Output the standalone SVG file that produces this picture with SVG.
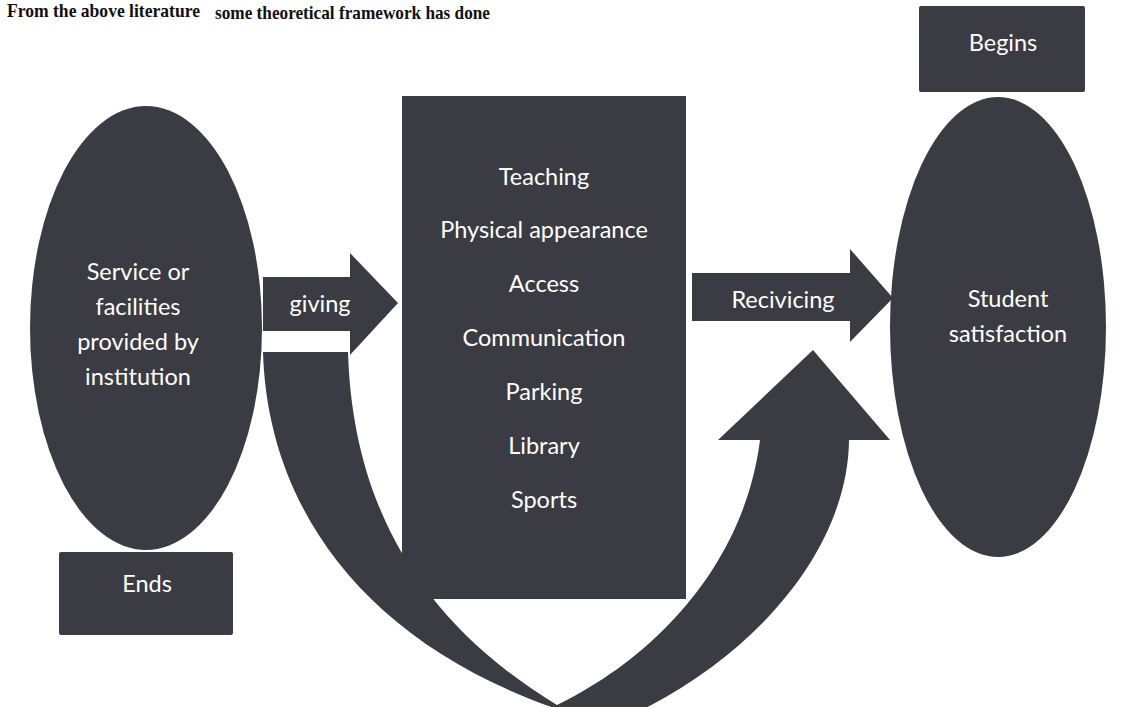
<svg xmlns="http://www.w3.org/2000/svg" width="1124" height="707" viewBox="0 0 1124 707">
<style>
.shape{fill:#3b3b43}
.lbl{font-family:Lato,"Open Sans","Liberation Sans",sans-serif;font-size:23.5px;fill:#ffffff;text-anchor:middle}
.title{font-family:"Liberation Serif","Times New Roman",serif;font-weight:bold;font-size:19px;fill:#111111}
</style>
<rect width="1124" height="707" fill="#ffffff"/>
<text class="title" x="7" y="17" textLength="193" lengthAdjust="spacingAndGlyphs">From the above literature</text>
<text class="title" x="215" y="19" textLength="275" lengthAdjust="spacingAndGlyphs">some theoretical framework has done</text>
<g id="connectors">
<path id="curved-arrow" class="shape" d="M263,352 L348,352 C352,480 400,610 557,705 C660,655 745,560 760,440 L718,440 L813,350 L890,440 L849,440 C848,545 760,660 610,725 C380,665 268,520 263,352 Z"/>
<g id="giving-arrow">
<path class="shape" d="M263,277 L350,277 L350,253 L398,303 L350,355 L350,331 L263,331 Z"/>
<text class="lbl" x="320" y="312">giving</text>
</g>
<g id="receiving-arrow">
<path class="shape" d="M692,273 L850,273 L850,249 L893,298 L850,342 L850,321 L692,321 Z"/>
<text class="lbl" x="783" y="308">Recivicing</text>
</g>
</g>
<g id="node-service">
<ellipse class="shape" cx="146" cy="328" rx="116" ry="222"/>
<text class="lbl" x="138" y="280">Service or</text>
<text class="lbl" x="138" y="315">facilities</text>
<text class="lbl" x="138" y="350">provided by</text>
<text class="lbl" x="138" y="385">institution</text>
</g>
<g id="node-factors">
<rect class="shape" x="402" y="96" width="284" height="503"/>
<text class="lbl" x="544" y="185">Teaching</text>
<text class="lbl" x="544" y="238">Physical appearance</text>
<text class="lbl" x="544" y="292">Access</text>
<text class="lbl" x="544" y="346">Communication</text>
<text class="lbl" x="544" y="400">Parking</text>
<text class="lbl" x="544" y="454">Library</text>
<text class="lbl" x="544" y="508">Sports</text>
</g>
<g id="node-satisfaction">
<ellipse class="shape" cx="998" cy="327" rx="108" ry="230"/>
<text class="lbl" x="1008" y="307">Student</text>
<text class="lbl" x="1008" y="342">satisfaction</text>
</g>
<g id="node-begins">
<rect class="shape" x="919" y="6" width="166" height="86" rx="2"/>
<text class="lbl" x="1003" y="51">Begins</text>
</g>
<g id="node-ends">
<rect class="shape" x="59" y="552" width="174" height="83" rx="2"/>
<text class="lbl" x="147" y="592">Ends</text>
</g>
</svg>
